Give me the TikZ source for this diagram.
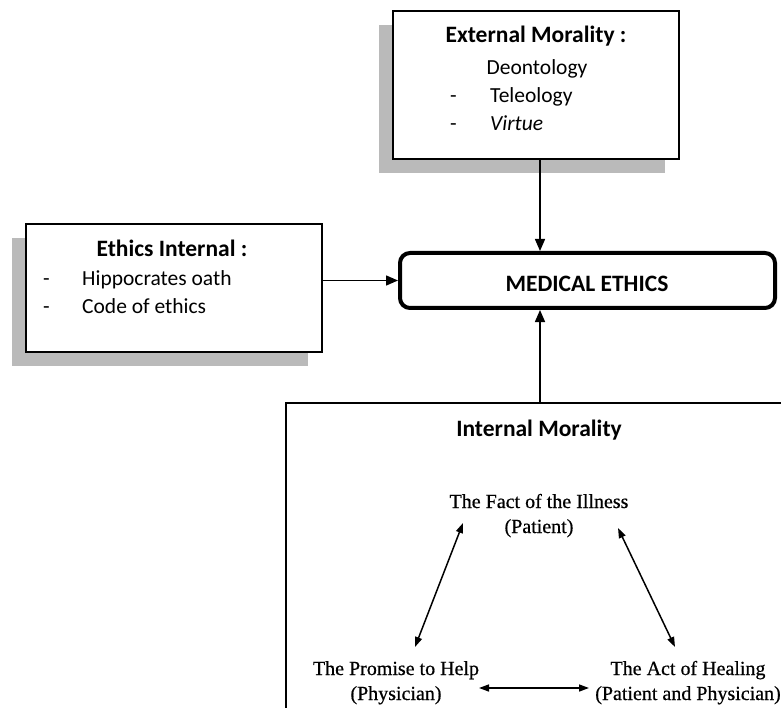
\documentclass[tikz,border=0pt]{standalone}
\usepackage{fontspec}
\setmainfont{Carlito}
\newfontfamily\tnr[FakeBold=0.6]{Liberation Serif}
\usetikzlibrary{arrows.meta,shadows,calc}
\begin{document}
\begin{tikzpicture}[x=1pt,y=-1pt,
  box/.style={draw=black,line width=1.5pt,fill=white,inner sep=0pt,
    drop shadow={shadow xshift=-14pt,shadow yshift=-14pt,fill=black!27,opacity=1}},
  medbox/.style={draw=black,line width=4pt,rounded corners=10pt,fill=white,inner sep=0pt},
  cal/.style={font=\fontsize{21.5}{25}\selectfont,inner sep=0pt,anchor=base west},
  calb/.style={font=\fontsize{23.5}{27}\selectfont\bfseries,inner sep=0pt,anchor=base},
  tri/.style={font=\tnr\fontsize{20}{25}\selectfont,inner sep=0pt,anchor=base,align=center},
  arr/.style={line width=1.5pt,-{Triangle[length=12pt,width=10pt]}},
  darr/.style={line width=1.5pt,{Triangle[length=10pt,width=7pt]}-{Triangle[length=10pt,width=7pt]}}
]
\useasboundingbox (0,0) rectangle (781,708);
\fill[white] (0,0) rectangle (781,708);

% boxes
\node[box,minimum width=286pt,minimum height=148pt] (ext) at (536,85) {};
\node[box,minimum width=296pt,minimum height=128pt] (eth) at (174,288) {};
\node[medbox,minimum width=375pt,minimum height=55pt] (med) at (587.5,280.5) {};
\draw[line width=1.5pt] (286,708) -- (286,403) -- (781,403);

% external morality text
\node[calb] (extt) at (536,43) {External Morality :};
\node[cal,anchor=base] (deo) at (537,75) {Deontology};
\node[cal] (d1) at (450,103) {-};
\node[cal] (tel) at (490,103) {Teleology};
\node[cal] (d2) at (450,131) {-};
\node[cal] (vir) at (490,131) {\itshape Virtue};

% ethics internal text
\node[calb] (etht) at (172,257) {Ethics Internal :};
\node[cal] (d3) at (43,286) {-};
\node[cal] (hip) at (82,286) {Hippocrates oath};
\node[cal] (d4) at (43,314) {-};
\node[cal] (code) at (82,314) {Code of ethics};

% medical ethics
\node[calb] (medt) at (587,292) {MEDICAL ETHICS};

% internal morality
\node[calb] (imt) at (539,436) {Internal Morality};
\node[tri] (fact) at (539,533) {The Fact of the Illness\\(Patient)};
\node[tri] (prom) at (396,700) {The Promise to Help\\(Physician)};
\node[tri] (act) at (688,700) {The Act of Healing\\(Patient and Physician)};

% connectors
\coordinate (ax) at (540,0);
\coordinate (imtop) at (540,403);
\draw[arr] (ext.south -| ax) -- (med.north -| ax);
\draw[arr] (eth.east |- med.west) -- (med.west);
\draw[arr] (imtop) -- (med.south -| ax);

\draw[darr] ($(fact.base)+(-76,-10)$) -- ($(prom.base)+(19,-53)$);
\draw[darr] ($(fact.base)+(79,-5)$) -- ($(act.base)+(-13,-53)$);
\draw[darr] ($(prom.base)+(83,-12)$) -- ($(act.base)+(-99,-12)$);
\end{tikzpicture}
\end{document}
